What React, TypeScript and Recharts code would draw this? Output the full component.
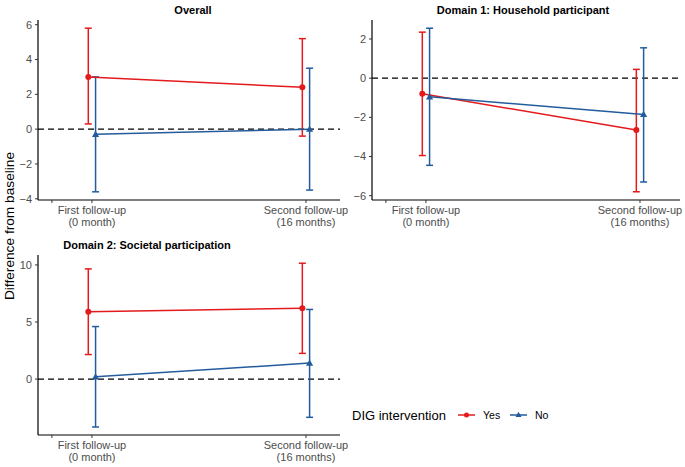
import React from "react";
import { ComposedChart, Scatter, XAxis, YAxis, ErrorBar, ReferenceLine } from "recharts";

const FONT = "'Liberation Sans', Arial, Helvetica, sans-serif";
const RED = "#E41A1C";
const BLUE = "#225C9C";
const TICK_GREY = "#4D4D4D";

// time points (x positions on a continuous axis) and their labels
const timepoints = [0, 1];
const timeLabels = [
  ["First follow-up", "(0 month)"],
  ["Second follow-up", "(16 months)"],
];
const extraTick = -0.187;

// Overall
const overallYesMean = [3.0, 2.4];
const overallYesLow = [0.3, -0.4];
const overallYesHigh = [5.8, 5.2];
const overallNoMean = [-0.3, 0.0];
const overallNoLow = [-3.6, -3.5];
const overallNoHigh = [3.0, 3.5];

// Domain 1
const d1YesMean = [-0.8, -2.65];
const d1YesLow = [-3.95, -5.8];
const d1YesHigh = [2.35, 0.45];
const d1NoMean = [-0.95, -1.85];
const d1NoLow = [-4.45, -5.3];
const d1NoHigh = [2.55, 1.55];

// Domain 2
const d2YesMean = [5.9, 6.2];
const d2YesLow = [2.15, 2.25];
const d2YesHigh = [9.65, 10.15];
const d2NoMean = [0.2, 1.4];
const d2NoLow = [-4.2, -3.35];
const d2NoHigh = [4.6, 6.1];

const overallTicks = [-4, -2, 0, 2, 4, 6];
const d1Ticks = [-6, -4, -2, 0, 2];
const d2Ticks = [0, 5, 10];

const DODGE = 0.017;

function build(mean: number[], low: number[], high: number[], shift: number) {
  return timepoints.map((t, i) => ({
    x: t + shift,
    y: mean[i],
    err: [mean[i] - low[i], high[i] - mean[i]],
  }));
}

const fmt = (v: number) => (v < 0 ? "\u2212" + Math.abs(v) : String(v));

const XTick = (props: any) => {
  const { x, y, payload } = props;
  const idx = timepoints.indexOf(payload.value);
  if (idx < 0) return null;
  const lines = timeLabels[idx];
  return (
    <text x={x} y={y} textAnchor="middle" fill={TICK_GREY} fontSize={11} fontFamily={FONT}>
      <tspan x={x} dy={9}>{lines[0]}</tspan>
      <tspan x={x} dy={12}>{lines[1]}</tspan>
    </text>
  );
};

const Dot = (color: string) => (p: any) => (
  <circle cx={p.cx} cy={p.cy} r={3} fill={color} />
);
const Tri = (color: string) => (p: any) => {
  const s = 3.6;
  return (
    <path
      d={`M${p.cx},${p.cy - s} L${p.cx + s},${p.cy + s * 0.75} L${p.cx - s},${p.cy + s * 0.75} Z`}
      fill={color}
    />
  );
};

type PanelProps = {
  left: number;
  top: number;
  plotRight: number;
  yWidth: number;
  yDomain: [number, number];
  yTicks: number[];
  xDomain: [number, number];
  yes: any[];
  no: any[];
};

const EXTRA = 25;

function Panel(p: PanelProps) {
  return (
    <div style={{ position: "absolute", left: p.left, top: p.top }}>
      <ComposedChart
        width={p.plotRight + EXTRA}
        height={230}
        margin={{ top: 20, right: EXTRA, bottom: 0, left: 0 }}
      >
        <XAxis
          type="number"
          dataKey="x"
          domain={p.xDomain}
          ticks={[extraTick, ...timepoints]}
          tick={<XTick />}
          tickSize={3}
          height={30}
          axisLine={{ stroke: "#000", strokeWidth: 1.2 }}
          tickLine={{ stroke: "#333", strokeWidth: 1 }}
          allowDataOverflow
        />
        <YAxis
          type="number"
          dataKey="y"
          domain={p.yDomain}
          ticks={p.yTicks}
          tickFormatter={fmt}
          width={p.yWidth}
          tickSize={3}
          tickMargin={3}
          tick={{ fill: TICK_GREY, fontSize: 11, fontFamily: FONT }}
          axisLine={{ stroke: "#000", strokeWidth: 1.2 }}
          tickLine={{ stroke: "#333", strokeWidth: 1 }}
          allowDataOverflow
        />
        <ReferenceLine y={0} stroke="#000" strokeWidth={1.3} strokeDasharray="6 4" />
        <Scatter
          data={p.yes}
          dataKey="y"
          line={{ stroke: RED, strokeWidth: 1.5 }}
          shape={Dot(RED)}
          isAnimationActive={false}
        >
          <ErrorBar dataKey="err" direction="y" width={3.5} stroke={RED} strokeWidth={1.5} />
        </Scatter>
        <Scatter
          data={p.no}
          dataKey="y"
          line={{ stroke: BLUE, strokeWidth: 1.5 }}
          shape={Tri(BLUE)}
          isAnimationActive={false}
        >
          <ErrorBar dataKey="err" direction="y" width={3.5} stroke={BLUE} strokeWidth={1.5} />
        </Scatter>
      </ComposedChart>
    </div>
  );
}

const titleStyle: React.CSSProperties = {
  position: "absolute",
  fontFamily: FONT,
  fontWeight: "bold",
  fontSize: 11,
  color: "#000",
  whiteSpace: "nowrap",
  transform: "translate(-50%, -50%)",
  lineHeight: 1,
};

export default function App() {
  return (
    <div
      style={{
        position: "absolute",
        left: 0,
        top: 0,
        width: 685,
        height: 467,
        background: "#fff",
        fontFamily: FONT,
        overflow: "hidden",
      }}
    >
      <Panel
        left={0}
        top={0}
        plotRight={340}
        yWidth={38}
        yDomain={[-4.07, 6.27]}
        yTicks={overallTicks}
        xDomain={[-0.252, 1.159]}
        yes={build(overallYesMean, overallYesLow, overallYesHigh, -DODGE)}
        no={build(overallNoMean, overallNoLow, overallNoHigh, DODGE)}
      />
      <Panel
        left={340}
        top={0}
        plotRight={340}
        yWidth={32}
        yDomain={[-6.22, 2.97]}
        yTicks={d1Ticks}
        xDomain={[-0.252, 1.187]}
        yes={build(d1YesMean, d1YesLow, d1YesHigh, -DODGE)}
        no={build(d1NoMean, d1NoLow, d1NoHigh, DODGE)}
      />
      <Panel
        left={0}
        top={235}
        plotRight={340}
        yWidth={38}
        yDomain={[-4.9, 10.87]}
        yTicks={d2Ticks}
        xDomain={[-0.252, 1.159]}
        yes={build(d2YesMean, d2YesLow, d2YesHigh, -DODGE)}
        no={build(d2NoMean, d2NoLow, d2NoHigh, DODGE)}
      />
      <div style={{ ...titleStyle, left: 193, top: 10 }}>Overall</div>
      <div style={{ ...titleStyle, left: 523, top: 10 }}>Domain 1: Household participant</div>
      <div style={{ ...titleStyle, left: 147, top: 245 }}>Domain 2: Societal participation</div>
      <div
        style={{
          position: "absolute",
          left: 10,
          top: 226,
          transform: "translate(-50%, -50%) rotate(-90deg)",
          fontSize: 13.7,
          fontFamily: FONT,
          whiteSpace: "nowrap",
          lineHeight: 1,
          color: "#000",
        }}
      >
        Difference from baseline
      </div>
      <svg
        style={{ position: "absolute", left: 340, top: 400 }}
        width={240}
        height={30}
      >
        <text x={12} y={20} fontSize={13} fontFamily={FONT} fill="#000">
          DIG intervention
        </text>
        <line x1={118} x2={135} y1={15} y2={15} stroke={RED} strokeWidth={1.5} />
        <circle cx={126.5} cy={15} r={2.5} fill={RED} />
        <text x={143} y={19} fontSize={10.5} fontFamily={FONT} fill="#000">
          Yes
        </text>
        <line x1={170} x2={187} y1={15} y2={15} stroke={BLUE} strokeWidth={1.5} />
        <path d="M178.5,11.8 L181.5,17 L175.5,17 Z" fill={BLUE} />
        <text x={195} y={19} fontSize={10.5} fontFamily={FONT} fill="#000">
          No
        </text>
      </svg>
    </div>
  );
}
